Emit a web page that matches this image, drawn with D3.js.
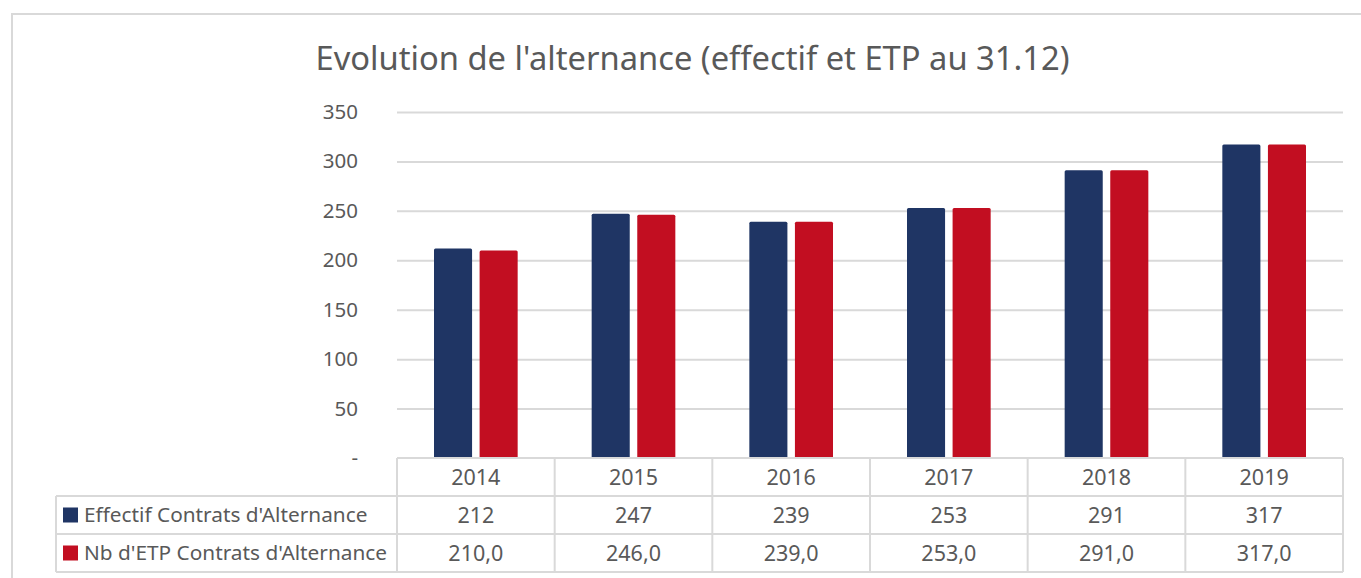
<!DOCTYPE html>
<html>
<head>
<meta charset="utf-8">
<script src="https://cdn.jsdelivr.net/npm/d3@7"></script>
<style>
  html, body { margin: 0; padding: 0; background: #fff; }
  svg { display: block; font-family: 'Noto Sans', 'Open Sans', sans-serif; }
</style>
</head>
<body>
<div id="chart"></div>
<script>
// chart data
const years = ['2014', '2015', '2016', '2017', '2018', '2019'];
const effectif = [212, 247, 239, 253, 291, 317];
const etp = [210, 246, 239, 253, 291, 317];
const seriesNames = ["Effectif Contrats d'Alternance", "Nb d'ETP Contrats d'Alternance"];
const seriesColors = ['#1f3564', '#c20e21'];
const yTicks = [0, 50, 100, 150, 200, 250, 300, 350];
const title = "Evolution de l'alternance (effectif et ETP au 31.12)";

const width = 1361;
const height = 578;
const plot = { left: 397, right: 1343, top: 112, bottom: 458 };
const rowH = 38;
const legendColLeft = 56;
const textColor = '#595959';
const lineColor = '#d9d9d9';

const frLocale = d3.formatLocale({ decimal: ',', thousands: ' ', grouping: [3], currency: ['', ' €'] });
const fmtEtp = frLocale.format('.1f');

const series = [
  { name: seriesNames[0], values: effectif, fmt: d3.format('d') },
  { name: seriesNames[1], values: etp, fmt: fmtEtp }
];

const svg = d3.select('#chart')
  .append('svg')
  .attr('width', width)
  .attr('height', height);

// chart frame (cropped on the right and bottom)
svg.append('path')
  .attr('d', `M12,${height + 5} L12,14 L${width + 5},14`)
  .attr('fill', 'none')
  .attr('stroke', lineColor)
  .attr('stroke-width', 2);

// scales
const x0 = d3.scaleBand()
  .domain(years)
  .range([plot.left, plot.right])
  .paddingInner(0)
  .paddingOuter(0);

const groupPad = 37;
const x1 = d3.scaleBand()
  .domain(d3.range(series.length))
  .range([groupPad, x0.bandwidth() - groupPad])
  .paddingInner(0.165);

const y = d3.scaleLinear()
  .domain([0, 350])
  .range([plot.bottom, plot.top]);

// title
svg.append('text')
  .attr('x', (315 + 1070) / 2)
  .attr('y', 70)
  .attr('text-anchor', 'middle')
  .attr('fill', textColor)
  .style('font-size', '32.7px')
  .text(title);

// grid lines
svg.append('g')
  .attr('class', 'grid')
  .attr('transform', `translate(${plot.left},0)`)
  .call(d3.axisRight(y)
    .tickValues(yTicks.filter(d => d > 0))
    .tickSize(plot.right - plot.left)
    .tickFormat(() => ''))
  .call(g => g.select('.domain').remove())
  .call(g => g.selectAll('line').attr('stroke', lineColor).attr('stroke-width', 2));

// y axis labels
svg.append('g')
  .attr('class', 'y-axis')
  .attr('transform', 'translate(358,0)')
  .call(d3.axisLeft(y)
    .tickValues(yTicks)
    .tickSize(0)
    .tickPadding(0)
    .tickFormat(d => d === 0 ? '-' : d))
  .call(g => g.select('.domain').remove())
  .call(g => g.selectAll('text')
    .attr('fill', textColor)
    .style('font-family', "'Noto Sans', sans-serif")
    .style('font-size', '20.5px'));

// bars
const groups = svg.append('g')
  .selectAll('g')
  .data(years)
  .join('g')
  .attr('transform', d => `translate(${x0(d)},0)`);

groups.selectAll('rect')
  .data((d, i) => series.map((s, k) => ({ k, v: s.values[i] })))
  .join('rect')
  .attr('x', d => x1(d.k))
  .attr('y', d => y(d.v))
  .attr('width', x1.bandwidth())
  .attr('height', d => y(0) - y(d.v))
  .attr('rx', 1.5)
  .attr('fill', d => seriesColors[d.k]);

// data table
const table = svg.append('g')
  .attr('class', 'data-table')
  .attr('fill', 'none')
  .attr('stroke', lineColor)
  .attr('stroke-width', 2);

const tableTop = plot.bottom;
const tableBottom = tableTop + rowH * (series.length + 1);

// horizontal lines
table.append('line')
  .attr('x1', plot.left).attr('x2', plot.right)
  .attr('y1', tableTop).attr('y2', tableTop);
d3.range(1, series.length + 2).forEach(r => {
  table.append('line')
    .attr('x1', legendColLeft).attr('x2', plot.right)
    .attr('y1', tableTop + r * rowH).attr('y2', tableTop + r * rowH);
});

// vertical lines
table.append('line')
  .attr('x1', legendColLeft).attr('x2', legendColLeft)
  .attr('y1', tableTop + rowH).attr('y2', tableBottom);
years.forEach(yr => {
  table.append('line')
    .attr('x1', x0(yr)).attr('x2', x0(yr))
    .attr('y1', tableTop).attr('y2', tableBottom);
});
table.append('line')
  .attr('x1', plot.right).attr('x2', plot.right)
  .attr('y1', tableTop).attr('y2', tableBottom);

// header: years
svg.append('g')
  .selectAll('text')
  .data(years)
  .join('text')
  .attr('x', d => x0(d) + x0.bandwidth() / 2)
  .attr('y', tableTop + rowH / 2)
  .attr('dy', '0.36em')
  .attr('text-anchor', 'middle')
  .attr('fill', textColor)
  .style('font-size', '21.5px')
  .text(d => d);

// series rows
series.forEach((s, k) => {
  const rowMid = tableTop + rowH * (k + 1) + rowH / 2;

  svg.append('rect')
    .attr('x', 63)
    .attr('y', rowMid - 7.5)
    .attr('width', 15)
    .attr('height', 15)
    .attr('fill', seriesColors[k]);

  svg.append('text')
    .attr('x', 84)
    .attr('y', rowMid)
    .attr('dy', '0.36em')
    .attr('fill', textColor)
    .style('font-size', '20.8px')
    .text(s.name);

  svg.append('g')
    .selectAll('text')
    .data(s.values)
    .join('text')
    .attr('x', (d, i) => x0(years[i]) + x0.bandwidth() / 2)
    .attr('y', rowMid)
    .attr('dy', '0.36em')
    .attr('text-anchor', 'middle')
    .attr('fill', textColor)
    .style('font-size', '21.5px')
    .text(d => s.fmt(d));
});
</script>
</body>
</html>
